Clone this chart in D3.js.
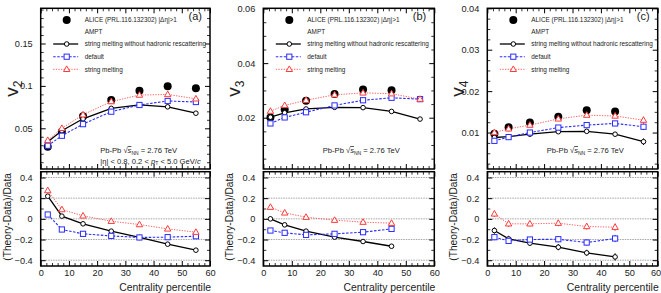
<!DOCTYPE html>
<html><head><meta charset="utf-8">
<script src="https://cdn.jsdelivr.net/npm/d3@7"></script>
<style>
html,body{margin:0;padding:0;background:#fff;}
svg{display:block;font-family:"Liberation Sans",Arial,Helvetica,sans-serif;}
</style></head>
<body><svg id="c" width="661" height="293"></svg>
<script>
// ---------------- DATA ----------------
const centrality = [2.5, 7.5, 15, 25, 35, 45, 55];
const xTicks = [0, 10, 20, 30, 40, 50, 60];
const ratioTicks = [-0.4, -0.2, 0, 0.2, 0.4];
const panelLabels = ["(a)", "(b)", "(c)"];
const harmonics = ["2", "3", "4"];
const legendLabels = ["ALICE (PRL.116.132302) |\u0394\u03b7|>1", "AMPT",
  "string melting without hadronic rescattering", "default", "string melting"];

// v2
const alice_v2 = [0.0283, 0.0459, 0.0642, 0.0833, 0.0944, 0.0996, 0.0971];
const smNoRes_v2 = [0.0342, 0.0471, 0.0612, 0.0735, 0.0776, 0.0753, 0.0678];
const default_v2 = [0.0295, 0.0412, 0.0549, 0.0696, 0.0775, 0.0822, 0.0810];
const sm_v2 = [0.0358, 0.0500, 0.0660, 0.0815, 0.0892, 0.0899, 0.0848];
const ratioSmNoRes_v2 = [0.219, 0.026, -0.048, -0.119, -0.180, -0.245, -0.303];
const ratioDefault_v2 = [0.042, -0.103, -0.145, -0.165, -0.180, -0.177, -0.168];
const ratioSm_v2 = [0.274, 0.090, 0.029, -0.023, -0.055, -0.097, -0.129];
const ratioErr_v2 = [0.01, 0.01, 0.008, 0.008, 0.008, 0.01, 0.012];
const yTicks_v2 = [0.05, 0.1, 0.15];

// v3
const alice_v3 = [0.0201, 0.0230, 0.0262, 0.0287, 0.0303, 0.0301];
const smNoRes_v3 = [0.0202, 0.0218, 0.0232, 0.0238, 0.0237, 0.0223, 0.0195];
const default_v3 = [0.0179, 0.0201, 0.0220, 0.0245, 0.0264, 0.0273, 0.0268];
const sm_v3 = [0.0224, 0.0245, 0.0264, 0.0284, 0.0291, 0.0288, 0.0268];
const ratioSmNoRes_v3 = [0.000, -0.058, -0.119, -0.177, -0.219, -0.265];
const ratioDefault_v3 = [-0.113, -0.135, -0.155, -0.145, -0.129, -0.097];
const ratioSm_v3 = [0.113, 0.058, 0.016, -0.013, -0.032, -0.042];
const ratioErr_v3 = [0.02, 0.02, 0.015, 0.015, 0.015, 0.015];
const yTicks_v3 = [0.02, 0.04, 0.06];

// v4
const alice_v4 = [0.0097, 0.0113, 0.0124, 0.0138, 0.0154, 0.0151];
const smNoRes_v4 = [0.0088, 0.0090, 0.0096, 0.0102, 0.0103, 0.0096, 0.0078];
const default_v4 = [0.0080, 0.0089, 0.0100, 0.0112, 0.0118, 0.0122, 0.0114];
const sm_v4 = [0.0100, 0.0109, 0.0118, 0.0133, 0.0142, 0.0140, 0.0130];
const modelErr_v4 = [0.0003, 0.0003, 0.0003, 0.0003, 0.0003, 0.0004, 0.0008];
const ratioSmNoRes_v4 = [-0.113, -0.194, -0.235, -0.274, -0.329, -0.368];
const ratioDefault_v4 = [-0.177, -0.213, -0.200, -0.197, -0.229, -0.190];
const ratioSm_v4 = [0.048, -0.048, -0.048, -0.042, -0.074, -0.081];
const ratioErr_v4 = [0.03, 0.03, 0.025, 0.03, 0.03, 0.035];
const yTicks_v4 = [0.01, 0.02, 0.03, 0.04];

// ---------------- LAYOUT ----------------
const svg = d3.select("#c");
const COLORS = {data: "#000", noRes: "#000", def: "#2b2bff", sm: "#ff3b3b"};
const topY0 = 169, topY1 = 8.3, botY0 = 266, botY1 = 171.7;

const panels = [
  {left: 40.7, right: 210, domain: [0.002, 0.1915], ticks: yTicks_v2, minorStep: 0.01, fmt: d3.format(""),
   data: alice_v2, noRes: smNoRes_v2, def: default_v2, sm: sm_v2, modelErr: null,
   rNoRes: ratioSmNoRes_v2, rDef: ratioDefault_v2, rSm: ratioSm_v2, rErr: ratioErr_v2, extraLine: true},
  {left: 263.3, right: 434.3, domain: [0.0012, 0.0601], ticks: yTicks_v3, minorStep: 0.005, fmt: d3.format(".2f"),
   data: alice_v3, noRes: smNoRes_v3, def: default_v3, sm: sm_v3, modelErr: null,
   rNoRes: ratioSmNoRes_v3, rDef: ratioDefault_v3, rSm: ratioSm_v3, rErr: ratioErr_v3, extraLine: false},
  {left: 487.3, right: 657.7, domain: [0.0012, 0.04], ticks: yTicks_v4, minorStep: 0.0025, fmt: d3.format(".2f"),
   data: alice_v4, noRes: smNoRes_v4, def: default_v4, sm: sm_v4, modelErr: modelErr_v4,
   rNoRes: ratioSmNoRes_v4, rDef: ratioDefault_v4, rSm: ratioSm_v4, rErr: ratioErr_v4, extraLine: false}
];

function range(a, b, s) { const out = []; for (let v = a; v <= b + s * 1e-6; v += s) out.push(+v.toFixed(6)); return out; }

function marker(g, type, x, y, color) {
  if (type === "dot") g.append("circle").attr("cx", x).attr("cy", y).attr("r", 4).attr("fill", color);
  else if (type === "circle") g.append("circle").attr("cx", x).attr("cy", y).attr("r", 2.3)
    .attr("fill", "#fff").attr("stroke", color).attr("stroke-width", 1);
  else if (type === "square") g.append("rect").attr("x", x - 2.6).attr("y", y - 2.6).attr("width", 5.2).attr("height", 5.2)
    .attr("fill", "#fff").attr("stroke", color).attr("stroke-width", 1);
  else if (type === "tri") g.append("path").attr("d", `M${x},${y - 3.4}L${x + 3.2},${y + 2.2}L${x - 3.2},${y + 2.2}Z`)
    .attr("fill", "#fff").attr("stroke", color).attr("stroke-width", 1);
}

function axisTicks(g, axisGen, major, minor, majorLen, minorLen, fmt, fs) {
  const a = g.append("g").call(axisGen.tickValues(major).tickSizeInner(-majorLen).tickSizeOuter(0).tickPadding(majorLen + 3).tickFormat(fmt || ""));
  a.select(".domain").remove();
  a.selectAll("line").attr("stroke", "#000").attr("stroke-width", 1);
  a.selectAll("text").attr("font-size", fs || 9).attr("fill", "#222").attr("font-family", "Liberation Sans, Arial, sans-serif");
  const b = g.append("g").call(axisGen.tickValues(minor).tickSizeInner(-minorLen).tickFormat(""));
  b.select(".domain").remove();
  b.selectAll("line").attr("stroke", "#000").attr("stroke-width", 0.8);
  return a;
}

const lineStyles = {
  noRes: {color: COLORS.noRes, dash: null, w: 1.3, mk: "circle"},
  def: {color: COLORS.def, dash: "2.5,1.5", w: 1.1, mk: "square"},
  sm: {color: COLORS.sm, dash: "1.3,1.3", w: 0.8, mk: "tri"}
};

panels.forEach((p, i) => {
  const x = d3.scaleLinear().domain([0, 60]).range([p.left, p.right]);
  const y = d3.scaleLinear().domain(p.domain).range([topY0, topY1]);
  const yr = d3.scaleLinear().domain([-0.456, 0.456]).range([botY0, botY1]);
  const g = svg.append("g");
  const xMinor = range(0, 60, 2).filter(v => v % 10 !== 0);

  // ---- top panel axes ----
  const yMinor = range(0, p.domain[1], p.minorStep).filter(v => v > p.domain[0] && !p.ticks.some(t => Math.abs(t - v) < 1e-9));
  axisTicks(g.append("g").attr("transform", `translate(${p.left},0)`), d3.axisLeft(y), p.ticks, yMinor, 5, 3, p.fmt, 9.2);
  axisTicks(g.append("g").attr("transform", `translate(${p.right},0)`), d3.axisRight(y), p.ticks, yMinor, 5, 3, "", 9);
  axisTicks(g.append("g").attr("transform", `translate(0,${topY1})`), d3.axisTop(x), xTicks, xMinor, 5, 3, "", 9);
  axisTicks(g.append("g").attr("transform", `translate(0,${topY0})`), d3.axisBottom(x), xTicks, xMinor, 5, 3, "", 9);

  // ---- bottom panel grid + axes ----
  g.append("g").selectAll("line").data(ratioTicks).join("line")
    .attr("x1", p.left).attr("x2", p.right).attr("y1", d => yr(d)).attr("y2", d => yr(d))
    .attr("stroke", "#9a9a9a").attr("stroke-width", 0.9).attr("stroke-dasharray", "1.5,1");
  const rMinor = range(-0.4, 0.4, 0.1).filter(v => !ratioTicks.some(t => Math.abs(t - v) < 1e-9));
  axisTicks(g.append("g").attr("transform", `translate(${p.left},0)`), d3.axisLeft(yr), ratioTicks, rMinor, 5, 3,
    d => d === 0 ? "0" : d3.format(".1f")(d), 9.2);
  axisTicks(g.append("g").attr("transform", `translate(${p.right},0)`), d3.axisRight(yr), ratioTicks, rMinor, 5, 3, "", 9);
  axisTicks(g.append("g").attr("transform", `translate(0,${botY1})`), d3.axisTop(x), xTicks, xMinor, 5, 3, "", 9);
  const xb = axisTicks(g.append("g").attr("transform", `translate(0,${botY0})`), d3.axisBottom(x), xTicks, xMinor, 5, 3, d3.format("d"), 9.2);
  xb.selectAll("text").attr("dy", "0.35em").attr("y", 7);
  if (i === 2) xb.selectAll("text").filter(d => d === 60).attr("text-anchor", "end").attr("x", 3);

  // frames
  g.append("rect").attr("x", p.left).attr("y", topY1).attr("width", p.right - p.left).attr("height", topY0 - topY1)
    .attr("fill", "none").attr("stroke", "#000").attr("stroke-width", 1.5);
  g.append("rect").attr("x", p.left).attr("y", botY1).attr("width", p.right - p.left).attr("height", botY0 - botY1)
    .attr("fill", "none").attr("stroke", "#000").attr("stroke-width", 1.5);

  // ---- data (top) ----
  const dg = g.append("g");
  p.data.forEach((v, k) => marker(dg, "dot", x(centrality[k]), y(v), COLORS.data));

  const line = d3.line().x(d => x(d[0])).y(d => y(d[1]));
  const rline = d3.line().x(d => x(d[0])).y(d => yr(d[1]));
  ["noRes", "def", "sm"].forEach(key => {
    const st = lineStyles[key];
    const vals = p[key];
    const pts = vals.map((v, k) => [centrality[k], v]);
    const mg = g.append("g");
    if (p.modelErr) vals.forEach((v, k) => mg.append("line").attr("x1", x(centrality[k])).attr("x2", x(centrality[k]))
      .attr("y1", y(v - p.modelErr[k])).attr("y2", y(v + p.modelErr[k])).attr("stroke", st.color).attr("stroke-width", 1));
    mg.append("path").attr("d", line(pts)).attr("fill", "none").attr("stroke", st.color)
      .attr("stroke-width", st.w).attr("stroke-dasharray", st.dash);
    pts.forEach(d => marker(mg, st.mk, x(d[0]), y(d[1]), st.color));

    // ratio
    const rkey = key === "noRes" ? "rNoRes" : key === "def" ? "rDef" : "rSm";
    const rvals = p[rkey];
    const rpts = rvals.map((v, k) => [centrality[k], v]);
    const rg = g.append("g");
    rvals.forEach((v, k) => rg.append("line").attr("x1", x(centrality[k])).attr("x2", x(centrality[k]))
      .attr("y1", yr(v - p.rErr[k])).attr("y2", yr(v + p.rErr[k])).attr("stroke", st.color).attr("stroke-width", 1));
    rg.append("path").attr("d", rline(rpts)).attr("fill", "none").attr("stroke", st.color)
      .attr("stroke-width", st.w).attr("stroke-dasharray", st.dash);
    rpts.forEach(d => marker(rg, st.mk, x(d[0]), yr(d[1]), st.color));
  });

  // ---- legend ----
  const lg = g.append("g");
  const lx = p.left + 26, tx = p.left + 44;
  const rows = [20, 32, 44, 56.7, 69.3];
  marker(lg, "dot", lx, rows[0], COLORS.data);
  const keys = [null, null, "noRes", "def", "sm"];
  keys.forEach((k, r) => {
    if (k) {
      const st = lineStyles[k];
      lg.append("line").attr("x1", p.left + 12.5).attr("x2", p.left + 37.5).attr("y1", rows[r]).attr("y2", rows[r])
        .attr("stroke", st.color).attr("stroke-width", st.w).attr("stroke-dasharray", st.dash);
      marker(lg, st.mk, lx, rows[r], st.color);
    }
    lg.append("text").attr("x", tx).attr("y", rows[r]).attr("dy", "0.35em").attr("font-size", 6.4)
      .attr("fill", "#222").text(legendLabels[r]);
  });
  g.append("text").attr("x", p.right - 8).attr("y", 20).attr("text-anchor", "end").attr("font-size", 11)
    .attr("fill", "#222").text(panelLabels[i]);

  // ---- system text ----
  const st = g.append("text").attr("x", p.left + 59.5).attr("y", 153).attr("font-size", 7.6).attr("fill", "#222");
  st.append("tspan").text("Pb-Pb \u221A");
  st.append("tspan").attr("font-style", "italic").attr("text-decoration", "overline").text("s");
  st.append("tspan").attr("font-size", 5).attr("dy", 1.8).text("NN");
  st.append("tspan").attr("dy", -1.8).text(" = 2.76 TeV");
  if (p.extraLine) {
    const t2 = g.append("text").attr("x", p.left + 59.5).attr("y", 163.5).attr("font-size", 7.6).attr("fill", "#222");
    t2.append("tspan").text("|\u03b7| < 0.8, 0.2 < ");
    t2.append("tspan").attr("font-style", "italic").text("p");
    t2.append("tspan").attr("font-size", 5).attr("dy", 1.8).text("T");
    t2.append("tspan").attr("dy", -1.8).text(" < 5.0 GeV/");
    t2.append("tspan").attr("font-style", "italic").text("c");
  }

  // ---- axis titles ----
  const vt = g.append("text").attr("transform", `translate(${p.left - 23},${(topY0 + topY1) / 2}) rotate(-90)`)
    .attr("text-anchor", "middle").attr("font-size", 19).attr("fill", "#222");
  vt.append("tspan").text("v");
  vt.append("tspan").attr("font-size", 12).attr("dy", 4).text(harmonics[i]);
  g.append("text").attr("transform", `translate(${p.left - 30},${(botY0 + botY1) / 2 - 2}) rotate(-90)`)
    .attr("text-anchor", "middle").attr("font-size", 10.2).attr("fill", "#222").text("(Theory-Data)/Data");
  g.append("text").attr("x", p.right + 1).attr("y", 291).attr("text-anchor", "end").attr("font-size", 10.4)
    .attr("fill", "#222").text("Centrality percentile");
});
</script></body></html>
